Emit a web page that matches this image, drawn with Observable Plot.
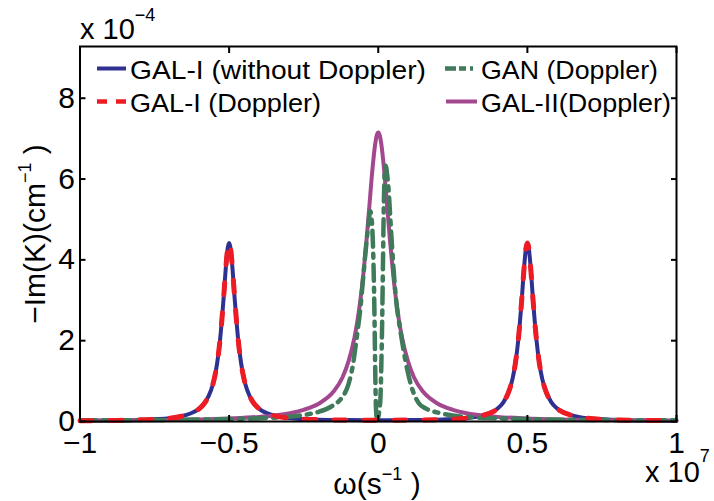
<!DOCTYPE html>
<html><head><meta charset="utf-8">
<script src="https://cdn.jsdelivr.net/npm/d3@7"></script>
<script src="https://cdn.jsdelivr.net/npm/@observablehq/plot@0.6"></script>
<style>body{margin:0;background:#fff} svg{display:block}</style>
</head><body><div id="chart"></div>
<script>
// ---- ticks ----
const xTicks = [-1, -0.5, 0, 0.5, 1];
const xTickLabels = ["\u22121", "\u22120.5", "0", "0.5", "1"];
const yTicks = [0, 2, 4, 6, 8];
const yTickLabels = ["0", "2", "4", "6", "8"];

// ---- series (x in 1e7 s^-1, y in 1e-4 cm^-1) ----
const seriesNames = ["GAL-I (without Doppler)", "GAL-I (Doppler)", "GAN (Doppler)", "GAL-II(Doppler)"];
const seriesColors = ["#2e3192", "#ed1c24", "#3f7a5a", "#a3488f"];

const galIx = [-1, -0.9, -0.8, -0.7, -0.65, -0.6, -0.58, -0.56, -0.55, -0.54, -0.53, -0.52, -0.51, -0.505, -0.5,
  -0.495, -0.49, -0.48, -0.47, -0.46, -0.45, -0.44, -0.42, -0.4, -0.35, -0.3, -0.2, -0.1, 0,
  0.1, 0.2, 0.3, 0.35, 0.4, 0.42, 0.44, 0.45, 0.46, 0.47, 0.48, 0.49, 0.495, 0.5,
  0.505, 0.51, 0.52, 0.53, 0.54, 0.55, 0.56, 0.58, 0.6, 0.65, 0.7, 0.8, 0.9, 1];
const galINoDopplerY = [0.02, 0.025, 0.04, 0.08, 0.15, 0.32, 0.48, 0.79, 1.05, 1.45, 2.05, 2.91, 3.90, 4.28, 4.42,
  4.28, 3.90, 2.91, 2.05, 1.45, 1.05, 0.79, 0.48, 0.32, 0.15, 0.085, 0.045, 0.035, 0.03,
  0.035, 0.045, 0.085, 0.15, 0.32, 0.48, 0.79, 1.05, 1.45, 2.05, 2.91, 3.90, 4.28, 4.42,
  4.28, 3.90, 2.91, 2.05, 1.45, 1.05, 0.79, 0.48, 0.32, 0.15, 0.08, 0.04, 0.025, 0.02];
const galIDopplerY = [0.02, 0.025, 0.04, 0.08, 0.15, 0.32, 0.48, 0.79, 1.05, 1.45, 2.05, 2.91, 3.90, 4.28, 4.42,
  4.28, 3.90, 2.91, 2.05, 1.45, 1.05, 0.79, 0.48, 0.32, 0.15, 0.085, 0.045, 0.035, 0.03,
  0.035, 0.045, 0.085, 0.15, 0.32, 0.48, 0.79, 1.05, 1.45, 2.05, 2.91, 3.90, 4.28, 4.42,
  4.28, 3.90, 2.91, 2.05, 1.45, 1.05, 0.79, 0.48, 0.32, 0.15, 0.08, 0.04, 0.025, 0.02];

const ganX = [-1, -0.7, -0.5, -0.4, -0.3, -0.25, -0.2, -0.16, -0.13, -0.115, -0.1, -0.085, -0.071, -0.06, -0.05,
  -0.04, -0.032, -0.027, -0.022, -0.017, -0.013, -0.010, -0.008, -0.005, -0.003, 0, 0.004, 0.0075, 0.010,
  0.013, 0.016, 0.019, 0.022, 0.025, 0.03, 0.035, 0.041, 0.05, 0.06, 0.0746, 0.09, 0.11, 0.136, 0.16,
  0.2, 0.25, 0.3, 0.4, 0.5, 0.7, 1];
const ganY = [0.03, 0.04, 0.06, 0.08, 0.12, 0.16, 0.24, 0.36, 0.52, 0.66, 0.92, 1.4, 2.15, 2.8, 3.6,
  4.4, 4.95, 5.2, 5.0, 4.2, 2.8, 1.2, 0.4, 0.08, 0.04, 0.1, 0.3, 0.6, 1.3,
  2.4, 4.0, 5.5, 6.2, 6.33, 6.1, 5.7, 4.96, 3.9, 3.0, 2.23, 1.55, 0.9, 0.45, 0.32,
  0.22, 0.15, 0.11, 0.08, 0.06, 0.04, 0.03];

const galIIx = [-1, -0.7, -0.5, -0.4, -0.3, -0.25, -0.2, -0.15, -0.12, -0.1, -0.08, -0.07, -0.06, -0.05, -0.04,
  -0.03, -0.02, -0.01, -0.005, 0, 0.005, 0.01, 0.02, 0.03, 0.04, 0.05, 0.06, 0.07, 0.08, 0.1, 0.12, 0.15,
  0.2, 0.25, 0.3, 0.4, 0.5, 0.7, 1];
const galIIY = [0.02, 0.04, 0.074, 0.114, 0.20, 0.29, 0.44, 0.74, 1.09, 1.48, 2.07, 2.48, 3.00, 3.64, 4.43,
  5.31, 6.20, 6.88, 7.08, 7.15, 7.08, 6.88, 6.20, 5.31, 4.43, 3.64, 3.00, 2.48, 2.07, 1.48, 1.09, 0.74,
  0.44, 0.29, 0.20, 0.114, 0.074, 0.04, 0.02];

const rows = (xs, ys) => xs.map((x, i) => ({x, y: ys[i]}));
const FONT = "'Liberation Sans', Arial, Helvetica, sans-serif";

const plot = Plot.plot({
  width: 714, height: 501,
  marginLeft: 79.5, marginRight: 38, marginTop: 46, marginBottom: 80,
  x: {domain: [-1, 1]},
  y: {domain: [0, 9.28]},
  style: {fontFamily: FONT, background: "#fff", color: "#000"},
  marks: [
    Plot.line(rows(galIx, galINoDopplerY), {x: "x", y: "y", stroke: seriesColors[0], strokeWidth: 4, curve: "monotone-x"}),
    Plot.line(rows(galIIx, galIIY), {x: "x", y: "y", stroke: seriesColors[3], strokeWidth: 4, curve: "monotone-x"}),
    Plot.line(rows(ganX, ganY), {x: "x", y: "y", stroke: seriesColors[2], strokeWidth: 4.5, strokeDasharray: "16,7,4,7", curve: "monotone-x"}),
    Plot.line(rows(galIx, galIDopplerY), {x: "x", y: "y", stroke: seriesColors[1], strokeWidth: 5, strokeDasharray: "12,18", curve: "monotone-x"}),
    Plot.frame({stroke: "#000", strokeWidth: 2}),
    Plot.axisX({anchor: "bottom", ticks: xTicks, tickSize: -6, tickPadding: 16.5, strokeWidth: 2,
      tickFormat: d => xTickLabels[xTicks.indexOf(d)], fontSize: 30, label: null}),
    Plot.axisX({anchor: "top", ticks: xTicks, tickSize: -6, strokeWidth: 2, tickFormat: () => "", label: null}),
    Plot.axisY({anchor: "left", ticks: yTicks, tickSize: -6, tickPadding: 11, strokeWidth: 2,
      tickFormat: d => yTickLabels[yTicks.indexOf(d)], fontSize: 30, label: null}),
    Plot.axisY({anchor: "right", ticks: yTicks, tickSize: -6, strokeWidth: 2, tickFormat: () => "", label: null})
  ]
});
document.getElementById("chart").append(plot);

// ---- annotations: labels, multipliers, legend ----
const svg = d3.select(plot);
const g = svg.append("g").attr("font-family", FONT).attr("fill", "#000").attr("text-anchor", "start");

// top multiplier x 10^-4
const m1 = g.append("text").attr("x", 80).attr("y", 38.5).attr("font-size", 29);
m1.append("tspan").text("x 10");
m1.append("tspan").attr("font-size", 18).attr("dy", -18).text("\u22124");

// bottom multiplier x 10^7
const m2 = g.append("text").attr("x", 645).attr("y", 481.5).attr("font-size", 29);
m2.append("tspan").text("x 10");
m2.append("tspan").attr("font-size", 18).attr("dy", -20).text("7");

// x label
const xl = g.append("text").attr("x", 377).attr("y", 494).attr("font-size", 30).attr("text-anchor", "middle");
xl.append("tspan").text("\u03c9(s");
xl.append("tspan").attr("font-size", 18).attr("dy", -14).text("\u22121");
xl.append("tspan").attr("dy", 14).text(" )");

// y label
const yl = g.append("text").attr("transform", "translate(45,234) rotate(-90)").attr("font-size", 30).attr("text-anchor", "middle");
yl.append("tspan").text("\u2212Im(K)(cm");
yl.append("tspan").attr("font-size", 18).attr("dy", -14).text("\u22121");
yl.append("tspan").attr("dy", 14).text(" )");

// legend
const legend = [
  {name: seriesNames[0], color: seriesColors[0], dash: null, x1: 97, x2: 126, y: 68.5, tx: 130, ty: 79, w: 4, len: 296},
  {name: seriesNames[1], color: seriesColors[1], dash: "10,9", x1: 97, x2: 126, y: 101.5, tx: 130, ty: 112, w: 4.5, len: 191},
  {name: seriesNames[2], color: seriesColors[2], dash: "11,3,7,4,3", x1: 445, x2: 476, y: 68.5, tx: 481, ty: 79, w: 4.5, len: 177},
  {name: seriesNames[3], color: seriesColors[3], dash: null, x1: 446, x2: 477, y: 101.5, tx: 481, ty: 112, w: 4, len: 190}
];
for (const L of legend) {
  const ln = g.append("line").attr("x1", L.x1).attr("x2", L.x2).attr("y1", L.y).attr("y2", L.y)
    .attr("stroke", L.color).attr("stroke-width", L.w);
  if (L.dash) ln.attr("stroke-dasharray", L.dash);
  g.append("text").attr("x", L.tx).attr("y", L.ty).attr("font-size", 26.5).attr("text-anchor", "start")
    .attr("textLength", L.len).attr("lengthAdjust", "spacingAndGlyphs").text(L.name);
}
</script>
</body></html>
